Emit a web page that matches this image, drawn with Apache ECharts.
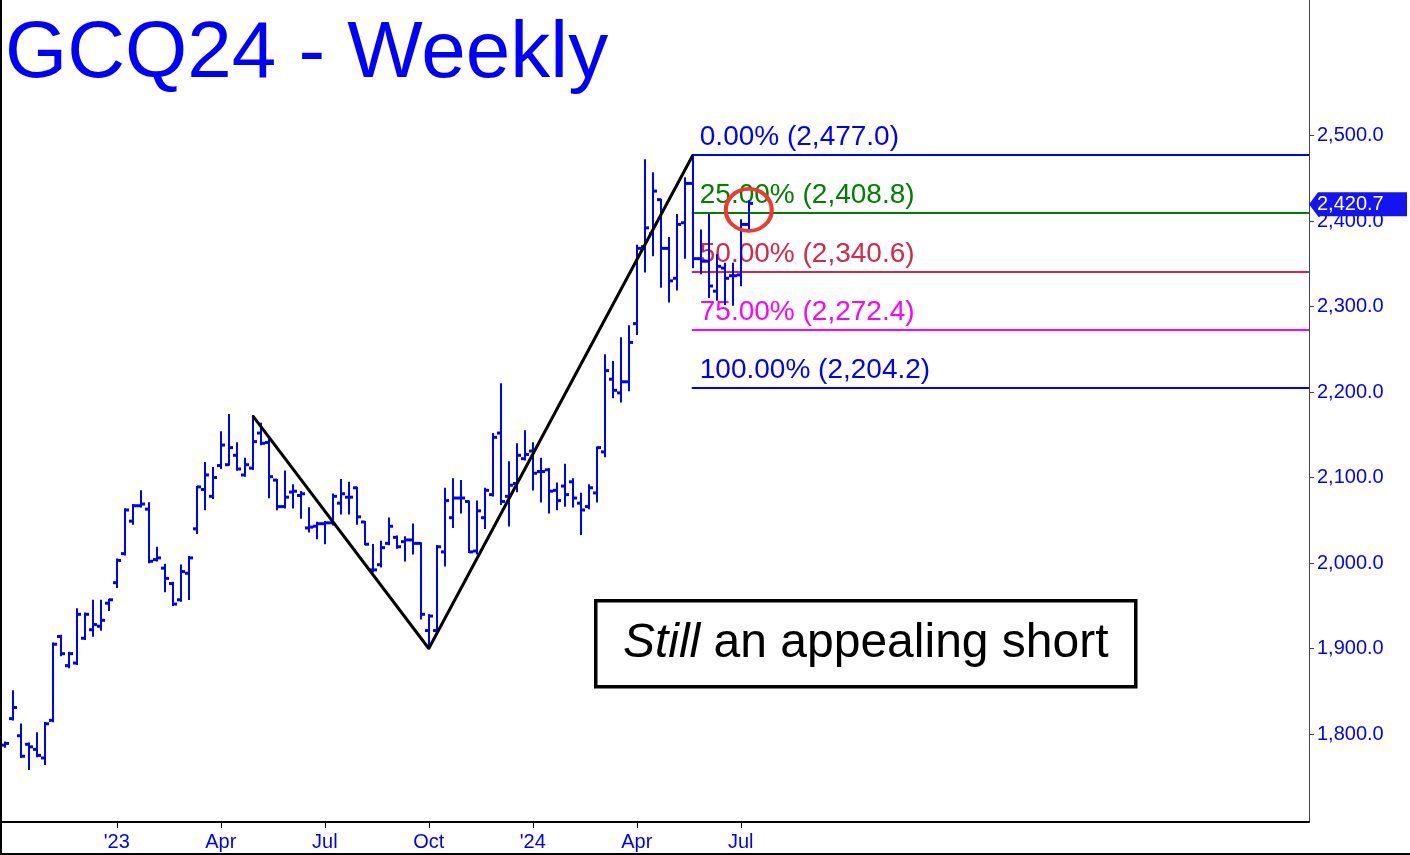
<!DOCTYPE html>
<html><head><meta charset="utf-8">
<script src="https://cdn.jsdelivr.net/npm/echarts@6/dist/echarts.min.js"></script>
<style>html,body{margin:0;padding:0;background:#fff}#c{width:1410px;height:855px}</style>
</head><body><div id="c"></div>
<script>
// ---------- DATA ----------
const weeks = [
 '2022-09-26','2022-10-03','2022-10-10','2022-10-17','2022-10-24','2022-10-31','2022-11-07','2022-11-14','2022-11-21','2022-11-28','2022-12-05','2022-12-12','2022-12-19','2022-12-26',
 '2023-01-02','2023-01-09','2023-01-16','2023-01-23','2023-01-30','2023-02-06','2023-02-13','2023-02-20','2023-02-27','2023-03-06','2023-03-13','2023-03-20','2023-03-27',
 '2023-04-03','2023-04-10','2023-04-17','2023-04-24','2023-05-01','2023-05-08','2023-05-15','2023-05-22','2023-05-29','2023-06-05','2023-06-12','2023-06-19','2023-06-26',
 '2023-07-03','2023-07-10','2023-07-17','2023-07-24','2023-07-31','2023-08-07','2023-08-14','2023-08-21','2023-08-28','2023-09-04','2023-09-11','2023-09-18','2023-09-25',
 '2023-10-02','2023-10-09','2023-10-16','2023-10-23','2023-10-30','2023-11-06','2023-11-13','2023-11-20','2023-11-27','2023-12-04','2023-12-11','2023-12-18','2023-12-25',
 '2024-01-01','2024-01-08','2024-01-15','2024-01-22','2024-01-29','2024-02-05','2024-02-12','2024-02-19','2024-02-26','2024-03-04','2024-03-11','2024-03-18','2024-03-25',
 '2024-04-01','2024-04-08','2024-04-15','2024-04-22','2024-04-29','2024-05-06','2024-05-13','2024-05-20','2024-05-27','2024-06-03','2024-06-10','2024-06-17','2024-06-24',
 '2024-07-01','2024-07-08'
];
const openP = [1787,1818,1798,1788,1782,1772,1816,1914,1880,1883,1912,1922,1926,1953,
 1977,2011,2049,2067,2063,2004,1994,1976,1957,1988,
 2040,2086,2078,2114,2115,2126,2103,2111,2152,2141,2097,2066,2083,2079,2041,2043,2046,2047,2070,2077,2088,2048,1992,
 1998,2023,2030,2025,2027,2023,1921,1921,2013,2053,2076,2072,2014,2053,2080,2152,2078,2093,2122,2131,2107,2109,2085,2090,
 2095,2070,2066,2082,2130,2215,2199,2212,2280,2370,2385,2425,2368,2333,2398,2444,2356,2353,2318,2345,2336,2337,2396];
const highP = [1790,1850,1811,1789,1801,1813,1906,1915,1895,1946,1941,1956,1956,1957,
 2004,2063,2068,2084,2070,2018,1998,1977,1997,2007,
 2089,2117,2111,2153,2173,2140,2122,2172,2163,2145,2097,2107,2091,2083,2064,2047,2048,2080,2097,2094,2088,2048,2021,
 2025,2052,2031,2030,2045,2023,1939,2020,2087,2098,2096,2072,2072,2087,2151,2209,2118,2139,2154,2140,2122,2110,2093,2115,
 2098,2081,2091,2135,2243,2235,2263,2277,2371,2471,2456,2425,2380,2407,2450,2477,2389,2407,2360,2350,2350,2401,2423];
const lowP = [1785,1817,1773,1759,1774,1765,1815,1892,1878,1882,1911,1915,1922,1945,
 1972,2010,2046,2066,2001,2003,1967,1951,1956,1958,
 2035,2063,2076,2111,2115,2109,2102,2110,2139,2077,2063,2065,2065,2053,2037,2029,2023,2045,2058,2058,2046,2022,1990,
 1996,2022,2018,2003,2011,1935,1900,1918,1997,2042,2059,2013,2011,2041,2079,2069,2044,2084,2121,2086,2072,2059,2063,2067,
 2066,2034,2064,2072,2125,2194,2189,2202,2268,2341,2360,2323,2306,2320,2357,2346,2339,2311,2308,2303,2302,2325,2388];
const closeP = [1789,1831,1774,1785,1775,1812,1905,1894,1894,1940,1940,1928,1933,1957,
 2003,2062,2067,2069,2002,2006,1982,1952,1990,2006,
 2089,2103,2100,2138,2135,2110,2115,2142,2140,2101,2066,2077,2084,2081,2042,2046,2047,2078,2081,2077,2054,2022,1992,
 2018,2043,2019,2027,2023,1940,1938,2019,2073,2076,2076,2013,2061,2085,2147,2072,2091,2126,2127,2105,2107,2084,2073,2080,
 2076,2062,2088,2135,2225,2202,2212,2258,2368,2392,2435,2368,2330,2396,2444,2356,2353,2324,2347,2333,2336,2396,2420.7];

const swingWeeks = ['2023-05-01','2023-10-02','2024-05-20'];
const swingValues = [2172, 1900, 2477];

const fibStartWeek = '2024-05-20';
const fibPct = ['0.00%','25.00%','50.00%','75.00%','100.00%'];
const fibValues = [2477.0, 2408.8, 2340.6, 2272.4, 2204.2];
const fibColors = ['#0000ff','#008000','#d7284a','#ff00ff','#0000ff'];

const circleWeek = '2024-07-08';
const circleValue = 2413;
const lastPrice = 2420.7;

const xTickWeeks = ['2023-01-02','2023-04-03','2023-07-03','2023-10-02','2024-01-01','2024-04-01','2024-07-01'];
const xTickLabels = ["'23",'Apr','Jul','Oct',"'24",'Apr','Jul'];
const yTicks = [1800,1900,2000,2100,2200,2300,2400,2500];

const titleText = 'GCQ24 - Weekly';
const noteItalic = 'Still';
const noteRest = ' an appealing short';

// ---------- CHART ----------
const T0 = Date.parse('2023-01-02');
const wk = d => Math.round((Date.parse(d) - T0) / (7 * 864e5));
const X_MIN = -14.6, X_MAX = 149.03, Y_MIN = 1697.1, Y_MAX = 2658.5;
const FONT = '"Liberation Sans", Arial, sans-serif';
const BLUE = '#0000ff';
const fmt = v => v.toLocaleString('en-US', {minimumFractionDigits: 1, maximumFractionDigits: 1});

const ohlc = weeks.map((d, i) => [wk(d), openP[i], highP[i], lowP[i], closeP[i]]);
const xTicks = xTickWeeks.map(wk);

const chart = echarts.init(document.getElementById('c'), null, {renderer: 'canvas'});
chart.setOption({
  animation: false,
  backgroundColor: '#fff',
  title: {
    text: titleText, left: 0, top: 10,
    textStyle: {fontFamily: FONT, fontSize: 80, fontWeight: 'normal', color: BLUE}
  },
  grid: {left: 0, right: 101, top: 0, bottom: 33},
  xAxis: {
    type: 'value', min: X_MIN, max: X_MAX,
    axisLine: {show: true, onZero: false, lineStyle: {color: '#000', width: 2}},
    axisTick: {show: true, customValues: xTicks, length: 6, lineStyle: {color: '#000'}},
    axisLabel: {customValues: xTicks, formatter: v => xTickLabels[xTicks.indexOf(v)],
      color: BLUE, fontSize: 20, fontFamily: FONT, margin: 10},
    splitLine: {show: false}
  },
  yAxis: {
    type: 'value', position: 'right', min: Y_MIN, max: Y_MAX,
    axisLine: {show: true, onZero: false, lineStyle: {color: '#444', width: 1}},
    axisTick: {show: true, customValues: yTicks, length: 5, lineStyle: {color: '#444'}},
    axisLabel: {customValues: yTicks, formatter: v => fmt(v), color: BLUE, fontSize: 20, fontFamily: FONT, margin: 8},
    splitLine: {show: false}
  },
  series: [
    {
      type: 'custom', name: 'fib', clip: false, z: 2,
      data: fibValues.map((v, i) => [wk(fibStartWeek), v, i]),
      encode: {x: 0, y: 1},
      renderItem: (params, api) => {
        const i = api.value(2), v = api.value(1);
        const p0 = api.coord([api.value(0), v]);
        const p1 = api.coord([X_MAX, v]);
        const col = fibColors[i];
        return {type: 'group', children: [
          {type: 'line', shape: {x1: p0[0] - 1, y1: Math.round(p0[1]), x2: p1[0], y2: Math.round(p0[1])},
           style: {stroke: col, lineWidth: 2}},
          {type: 'text', x: p0[0] + 7, y: p0[1] - 18,
           style: {text: fibPct[i] + ' (' + fmt(v) + ')', fill: col, font: '28px ' + FONT,
                   align: 'left', verticalAlign: 'middle'}}
        ]};
      }
    },
    {
      type: 'custom', name: 'ohlc', z: 3,
      data: ohlc,
      encode: {x: 0, y: [1, 2, 3, 4]},
      renderItem: (params, api) => {
        const t = api.value(0);
        const pH = api.coord([t, api.value(2)]);
        const pL = api.coord([t, api.value(3)]);
        const pO = api.coord([t, api.value(1)]);
        const pC = api.coord([t, api.value(4)]);
        const x = Math.round(pH[0]);
        const st = {stroke: BLUE, lineWidth: 2};
        return {type: 'group', children: [
          {type: 'line', shape: {x1: x, y1: pH[1] - 1, x2: x, y2: pL[1] + 1}, style: st},
          {type: 'line', shape: {x1: x - 4, y1: pO[1], x2: x, y2: pO[1]}, style: {stroke: BLUE, lineWidth: 3}},
          {type: 'line', shape: {x1: x, y1: pC[1], x2: x + 4, y2: pC[1]}, style: {stroke: BLUE, lineWidth: 3}}
        ]};
      }
    },
    {
      type: 'line', name: 'swing', z: 4,
      data: swingWeeks.map((d, i) => [wk(d), swingValues[i]]),
      symbol: 'none', lineStyle: {color: '#000', width: 3}
    },
    {
      type: 'scatter', name: 'circle', z: 5,
      data: [[wk(circleWeek), circleValue]],
      symbol: 'circle', symbolSize: [46, 42],
      itemStyle: {color: 'rgba(0,0,0,0)', borderColor: '#f03a30', borderWidth: 4, opacity: 1}
    },
    {
      type: 'custom', name: 'tag', clip: false, z: 6,
      data: [[X_MAX, lastPrice]],
      encode: {x: 0, y: 1},
      renderItem: (params, api) => {
        const p = api.coord([api.value(0), api.value(1)]);
        const x = p[0], y = p[1] + 1;
        return {type: 'group', children: [
          {type: 'polygon', shape: {points: [[x, y], [x + 9, y - 12], [x + 98, y - 12], [x + 98, y + 12], [x + 9, y + 12]]},
           style: {fill: '#1414f0'}},
          {type: 'text', x: x + 8, y: y,
           style: {text: fmt(lastPrice), fill: '#fff', font: '20px ' + FONT, align: 'left', verticalAlign: 'middle'}}
        ]};
      }
    }
  ],
  graphic: [
    {type: 'line', shape: {x1: 1, y1: 0, x2: 1, y2: 855}, style: {stroke: '#000', lineWidth: 2}, z: 10},
    {type: 'line', shape: {x1: 0, y1: 854, x2: 1410, y2: 854}, style: {stroke: '#000', lineWidth: 2}, z: 10},
    {type: 'group', left: 594, top: 599, z: 10, children: [
      {type: 'rect', shape: {x: 0, y: 0, width: 540, height: 86}, style: {fill: '#fff', stroke: '#000', lineWidth: 3.5}},
      {type: 'text', x: 270, y: 43, style: {
        text: '{i|' + noteItalic + '}{n|' + noteRest + '}', align: 'center', verticalAlign: 'middle',
        rich: {i: {fontStyle: 'italic', fontSize: 48, fontFamily: FONT, fill: '#000'},
               n: {fontSize: 48, fontFamily: FONT, fill: '#000'}}
      }}
    ]}
  ]
});
</script>
</body></html>
